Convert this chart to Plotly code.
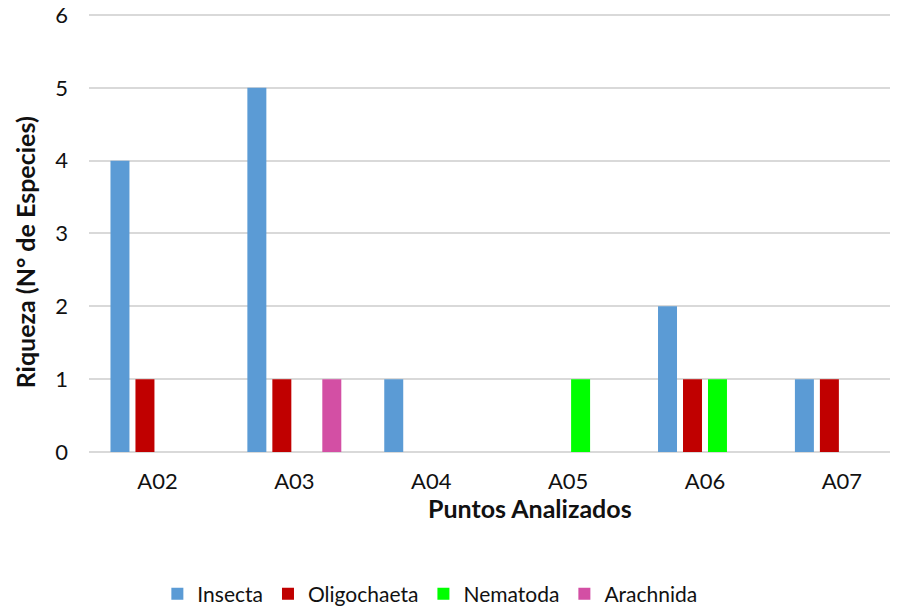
import plotly.graph_objects as go

puntos = ['A02', 'A03', 'A04', 'A05', 'A06', 'A07']
insecta = [4, 5, 1, 0, 2, 1]
oligochaeta = [1, 1, 0, 0, 1, 1]
nematoda = [0, 0, 0, 1, 1, 0]
arachnida = [0, 1, 0, 0, 0, 0]

series = [
    ('Insecta', insecta, '#5B9BD5'),
    ('Oligochaeta', oligochaeta, '#C00000'),
    ('Nematoda', nematoda, '#00FF00'),
    ('Arachnida', arachnida, '#D34FA4'),
]

FONT = 'Lato, Calibri, Carlito, sans-serif'

fig = go.Figure()
for name, vals, color in series:
    fig.add_trace(go.Bar(
        x=puntos, y=vals, name=name,
        marker=dict(color=color, line=dict(width=0)),
    ))

# the page body keeps an 8px margin, so the figure is drawn 8px smaller
fig.update_layout(
    width=890, height=598,
    barmode='group', bargap=0.27, bargroupgap=0.24,
    plot_bgcolor='white', paper_bgcolor='white',
    font=dict(family=FONT, size=21, color='#111111'),
    margin=dict(l=81, r=0, t=4, b=154, autoexpand=False),
    showlegend=True,
    legend=dict(orientation='h', xref='container', yref='container',
                x=0.474, xanchor='center', y=0.0201, yanchor='middle',
                font=dict(size=21, color='#111111'), itemwidth=30, traceorder='normal'),
    xaxis=dict(range=[-0.5, 5.41], showgrid=False, showline=False, zeroline=False,
               ticks='', ticklabelstandoff=14, tickfont=dict(size=22, color='#111111')),
    yaxis=dict(range=[0, 6.041], dtick=1, showgrid=True, gridcolor='#D9D9D9', gridwidth=1.5,
               zeroline=True, zerolinecolor='#D9D9D9', zerolinewidth=1.5, showline=False,
               ticks='', ticklabelstandoff=20, ticklabeloverflow='allow',
               tickfont=dict(size=22, color='#111111')),
    annotations=[
        dict(text='<b>Riqueza (N° de Especies)</b>', textangle=-90, xref='paper', yref='paper',
             x=-0.0795, y=0.453, xanchor='center', yanchor='middle', showarrow=False,
             font=dict(size=25, color='#111111')),
        dict(text='<b>Puntos Analizados</b>', xref='paper', yref='paper',
             x=0.545, y=-0.128, xanchor='center', yanchor='middle', showarrow=False,
             font=dict(size=25, color='#111111')),
    ],
)

fig.write_html('out.html')
